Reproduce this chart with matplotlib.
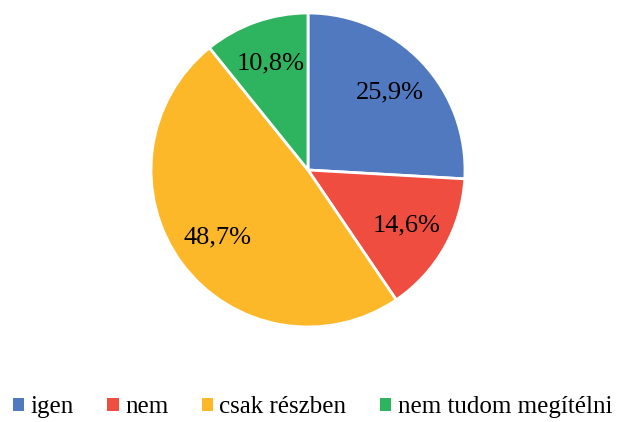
import matplotlib.pyplot as plt
from matplotlib.patches import Patch

labels = ["igen", "nem", "csak részben", "nem tudom megítélni"]
values = [25.9, 14.6, 48.7, 10.8]
colors = ["#5079C0", "#EE4D3F", "#FDB82A", "#2EB45F"]

plt.rcParams["font.family"] = ["Liberation Serif", "DejaVu Serif"]

fig = plt.figure(figsize=(6.19, 4.22), dpi=100)
ax = fig.add_axes([151 / 619, 95 / 422, 314 / 619, 314 / 422])

wedges, texts, autotexts = ax.pie(
    values, colors=colors, startangle=90, counterclock=False,
    autopct=lambda p: f"{p:.1f}%".replace(".", ","), pctdistance=0.72,
    wedgeprops=dict(edgecolor="white", linewidth=2), radius=1,
    textprops=dict(fontsize=19, color="black"),
)
ax.set_xlim(-1, 1)
ax.set_ylim(-1, 1)
ax.set_aspect("equal")

handles = [Patch(facecolor=c, label=l) for c, l in zip(colors, labels)]
fig.legend(handles=handles, loc="lower center", bbox_to_anchor=(0.505, -0.045),
           ncol=4, frameon=False, fontsize=18, handlelength=0.45, handleheight=0.45,
           handletextpad=0.25, columnspacing=1.35)

fig.savefig("out.png", dpi=100)
